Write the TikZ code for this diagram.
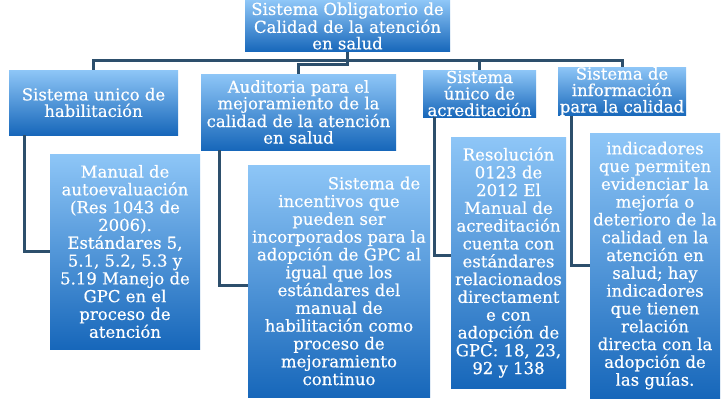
\documentclass[tikz,border=0pt]{standalone}
\usepackage{fontspec}
\setmainfont{DejaVu Serif}[FakeBold=0.4]
\usetikzlibrary{calc}
\definecolor{boxtop}{HTML}{8EC6F7}
\definecolor{boxbot}{HTML}{1767BA}
\definecolor{linkc}{HTML}{2D4F6C}
\tikzset{
  box/.style={shade, top color=boxtop, bottom color=boxbot, text=white,
    inner sep=0pt, align=center, font=\fontsize{16.5}{16.5}\selectfont},
  tallbox/.style={box, font=\fontsize{16.5}{17.8}\selectfont},
  link/.style={draw=linkc, line width=3pt}
}
\begin{document}
\begin{tikzpicture}[x=1pt,y=-1pt]
\useasboundingbox (0,0) rectangle (728,408);
\fill[white] (0,0) rectangle (728,408);
% top and level 1
\node[box, minimum width=205pt, minimum height=51pt] (top) at (347.5,26)
  {Sistema Obligatorio de\\Calidad de la atención\\en salud};
\node[box, minimum width=169pt, minimum height=65pt] (A) at (93.5,102.5)
  {Sistema unico de\\habilitación};
\node[box, minimum width=195pt, minimum height=76pt] (B) at (298.5,112)
  {Auditoria para el\\mejoramiento de la\\calidad de la atención\\en salud};
\node[box, minimum width=113pt, minimum height=47pt] (C) at (479.5,93.5)
  {Sistema\\único de\\acreditación};
\node[box, minimum width=128pt, minimum height=43pt] (D) at (622,91.5)
  {Sistema de\\información\\para la calidad};
% level 2
\node[tallbox, minimum width=150pt, minimum height=195pt] (A2) at (125,251.5)
  {Manual de\\autoevaluación\\(Res 1043 de\\2006).\\Estándares 5,\\5.1, 5.2, 5.3 y\\5.19 Manejo de\\GPC en el\\proceso de\\atención};
\node[tallbox, minimum width=182pt, minimum height=232pt] (B2) at (339,281)
  {\hspace*{70pt}Sistema de\\incentivos que\\pueden ser\\incorporados para la\\adopción de GPC al\\igual que los\\estándares del\\manual de\\habilitación como\\proceso de\\mejoramiento\\continuo};
\node[tallbox, minimum width=115pt, minimum height=251pt] (C2) at (508.5,262.5)
  {Resolución\\0123 de\\2012 El\\Manual de\\acreditación\\cuenta con\\estándares\\relacionados\\directament\\e con\\adopción de\\GPC: 18, 23,\\92 y 138};
\node[tallbox, minimum width=130pt, minimum height=265pt] (D2) at (655,265.5)
  {indicadores\\que permiten\\evidenciar la\\mejoría o\\deterioro de la\\calidad en la\\atención en\\salud; hay\\indicadores\\que tienen\\relación\\directa con la\\adopción de\\las guías.};
% connectors
\draw[link] (top.south) -- ++(0,9) -| (A.north);
\draw[link] (top.south) -- ++(0,9) -| (C.north);
\draw[link] (top.south) -- ++(0,9) -| (D.north);
\draw[link] (top.south) -- ++(0,13) -| (B.north);
\draw[link] ($(A.south west)+(16,0)$) |- (A2.west);
\draw[link] ($(B.south west)+(19,0)$) |- ($(B2.west)+(0,4)$);
\draw[link] ($(C.south west)+(12,0)$) |- ($(C2.west)+(0,-7)$);
\draw[link] ($(D.south west)+(14,0)$) |- (D2.west);
\end{tikzpicture}
\end{document}
